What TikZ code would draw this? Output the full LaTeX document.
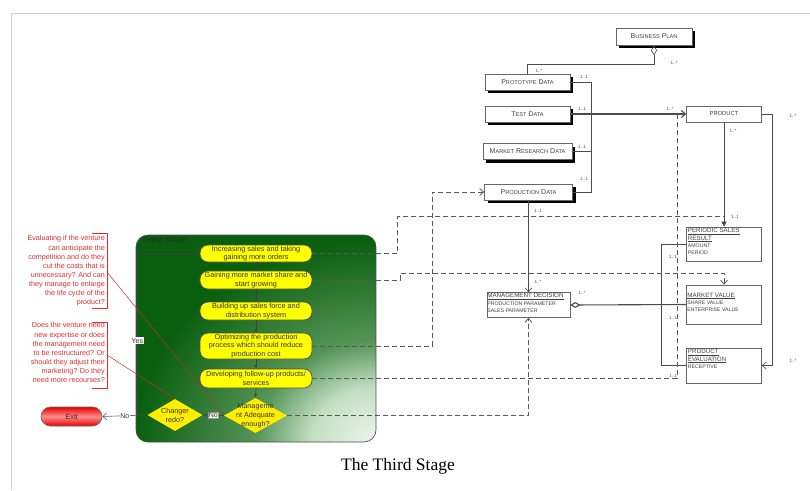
\documentclass[tikz,border=0pt]{standalone}
\usepackage{fontspec}
\setmainfont{Liberation Sans}
\newfontfamily\capfont{Liberation Serif}
\usetikzlibrary{arrows.meta,shapes.geometric,shadows}

\definecolor{stagegreen}{RGB}{10,95,15}
\definecolor{stagemid}{RGB}{85,148,87}
\definecolor{stagepale}{RGB}{195,222,195}
\definecolor{stagewhite}{RGB}{238,245,238}
\definecolor{pillyellow}{RGB}{255,255,0}
\definecolor{decyellow}{RGB}{255,238,0}
\definecolor{annred}{RGB}{225,45,45}
\definecolor{annline}{RGB}{185,50,40}
\definecolor{framegray}{RGB}{205,205,205}
\definecolor{exitred}{RGB}{232,0,0}
\definecolor{exitpink}{RGB}{255,140,140}

% glow towards the lower right corner of the stage panel
\pgfdeclareradialshading{stageglow}{\pgfpoint{0bp}{0bp}}{color(0bp)=(stagewhite); color(6.5bp)=(stagepale); color(12bp)=(stagemid); color(24bp)=(stagegreen); color(50bp)=(stagegreen)}

% small caps imitation: large initial, smaller rest
\newcommand\smc[2]{#1{\fontsize{5.6}{6}\selectfont #2}}
\newcommand\umlhead[1]{{\fontsize{6.2}{7.3}\selectfont\underline{#1}}}

\tikzset{
  databox/.style={draw=black!60, fill=white, line width=0.6pt, minimum height=16pt,
    inner sep=0pt, font=\fontsize{7}{8}\selectfont, text=black!75,
    general shadow={fill=black, shadow xshift=3pt, shadow yshift=-3pt}},
  umlbox/.style={draw=black!60, fill=white, line width=0.6pt, inner sep=0pt},
  umltext/.style={inner sep=0pt, align=left, font=\fontsize{5.2}{7.3}\selectfont, text=black!75},
  mult/.style={inner sep=0pt, font=\fontsize{4.6}{5}\selectfont, text=black!70},
  umlline/.style={draw=black!70, line width=0.6pt},
  openhead/.style={-{Straight Barb[length=4pt,width=7pt]}},
  dashline/.style={draw=black!65, line width=0.8pt, dash pattern=on 5pt off 3pt},
  pill/.style={draw=black!70, line width=0.7pt, fill=pillyellow, rounded corners=8pt,
    minimum width=112pt, inner sep=0pt, align=center,
    font=\fontsize{7.3}{8.6}\selectfont, text=black!80},
  decision/.style={diamond, fill=decyellow, draw=none, inner sep=0pt},
  dectext/.style={inner sep=0pt, align=center, font=\fontsize{7.2}{9}\selectfont, text=black!80},
  flowarrow/.style={draw=black!75, line width=0.6pt, -{Latex[length=3.5pt,width=3pt]}},
  note/.style={inner sep=0pt, align=right, font=\fontsize{7.2}{9.1}\selectfont, text=annred},
  tag/.style={fill=white, inner sep=0.8pt, font=\fontsize{7}{8}\selectfont, text=black!80},
}

\begin{document}
\begin{tikzpicture}[x=1pt,y=-1pt]
\useasboundingbox (0,0) rectangle (810,490);

% page frame
\draw[framegray, line width=0.8pt] (11,490) -- (11,13) -- (810,13);

% ---------- data model ----------
\node[databox, minimum width=76pt, minimum height=17pt] (bp) at (654,36.5) {\smc{B}{USINESS} \smc{P}{LAN}};
\node[databox, minimum width=85pt] (proto) at (527.5,82) {\smc{P}{ROTOTYPE} \smc{D}{ATA}};
\node[databox, minimum width=85pt] (test) at (527.5,114) {\smc{T}{EST} \smc{D}{ATA}};
\node[databox, minimum width=89pt] (mrd) at (527.5,151.5) {\smc{M}{ARKET} \smc{R}{ESEARCH} \smc{D}{ATA}};
\node[databox, minimum width=88pt] (prod) at (528.5,192) {\smc{P}{RODUCTION} \smc{D}{ATA}};

\node[umlbox, minimum width=75pt, minimum height=16pt, font=\fontsize{5.8}{7}\selectfont, text=black!75] (product) at (724,114) {PRODUCT};
\node[umlbox, minimum width=75pt, minimum height=34pt] (psr) at (724,244) {};
\node[umlbox, minimum width=75pt, minimum height=39pt] (mv) at (724,304.5) {};
\node[umlbox, minimum width=75pt, minimum height=35pt] (pe) at (724,365.5) {};
\node[umlbox, minimum width=83pt, minimum height=25pt] (md) at (528.5,305) {};

\node[umltext, anchor=north west] (psrtext) at ([shift={(1.5,1.5)}]psr.north west) {\umlhead{PERIODIC SALES}\\\umlhead{RESULT}\\AMOUNT\\PERIOD};
\node[umltext, anchor=north west] (mvtext) at ([shift={(1,8)}]mv.north west) {\umlhead{MARKET VALUE}\\SHARE VALUE\\ENTERPRISE VALUE};
\node[umltext, anchor=north west] (petext) at ([shift={(1.5,1.5)}]pe.north west) {\umlhead{PRODUCT}\\\umlhead{EVALUATION}\\RECEPTIVE};
\node[umltext, anchor=north west] (mdtext) at ([shift={(0.5,1)}]md.north west) {\umlhead{MANAGEMENT DECISION}\\PRODUCTION PARAMETER\\SALES PARAMETER};

\coordinate (psrin) at (724,216);
\coordinate (productin) at (677,114);

% associations
\draw[umlline, {Diamond[open,length=10pt,width=6pt]}-] (bp.south) -- ++(0,19) -| (proto.north);
\draw[umlline] (proto.east) -- ++(21,0) |- (prod.east);
\draw[umlline] (mrd.east) -- ++(19,0);
\draw[umlline, line width=1.1pt, openhead] (test.east) -- (product.west);
\draw[umlline, -{Triangle[length=5pt,width=5pt]}] (product.south) -- (psr.north);
\draw[umlline, openhead] (product.east) -- ++(10,0) |- (pe.east);
\draw[umlline] (psr.west) -- ++(-25,0) |- (pe.west);
\draw[umlline, line width=1.1pt, {Diamond[open,length=10pt,width=6pt]}-] (md.east) -- (mv.west);
\draw[umlline, openhead] (prod.south) -- (md.north);

% multiplicities
\foreach \p/\t [count=\i] in {{(674,63)}/1..*, {(539,71)}/1..*, {(584,77)}/1..1, {(582,109)}/1..1,
  {(582,147)}/1..1, {(584,179)}/1..1, {(670,109)}/1..*, {(793,116)}/1..*, {(733,131)}/1..*,
  {(735,217)}/1..1, {(538,211)}/1..1, {(538,282)}/1..*, {(582,293)}/1..*, {(673,257)}/1..1,
  {(673,318)}/1..1, {(673,376)}/1..1, {(793,361)}/1..*}
  \node[mult] (m\i) at \p {\t};

% ---------- third stage ----------
\begin{scope}
  \clip[rounded corners=12pt] (136,235) rectangle (376,442);
  \fill[stagegreen] (136,235) rectangle (376,442);
  \shade[shading=stageglow] (376,442) ellipse [x radius=250pt, y radius=210pt];
\end{scope}
\draw[black!70, line width=0.6pt, rounded corners=12pt] (136,235) rectangle (376,442);
\node[anchor=north west, inner sep=0pt, font=\fontsize{6.8}{8}\selectfont, text=black!85] (stagelabel) at (142,237.5) {THIRD STAGE};

\node[pill, minimum height=17pt] (p1) at (256,253.5) {Increasing sales and taking\\gaining more orders};
\node[pill, minimum height=18pt] (p2) at (256,280) {Gaining more market share and\\start growing};
\node[pill, minimum height=18pt] (p3) at (256,311) {Building up sales force and\\distribution system};
\node[pill, minimum height=26pt] (p4) at (256,346) {Optimizing the production\\process which should reduce\\production cost};
\node[pill, minimum height=19pt] (p5) at (256,378.5) {Developing follow-up products/\\services};

\node[decision, minimum width=63pt, minimum height=35pt] (mg) at (255.5,415.5) {};
\node[dectext] (mgtext) at (mg) {Manageme\\nt Adequate\\enough?};
\node[decision, minimum width=55pt, minimum height=32pt] (ch) at (175,415) {};
\node[dectext] (chtext) at (ch) {Changer\\redo?};

\node[draw=black!60, line width=0.6pt, rounded corners=9.5pt, minimum width=61pt, minimum height=19pt,
  top color=exitred, bottom color=exitred, middle color=exitpink,
  font=\fontsize{7.5}{9}\selectfont, text=black!80] (exit) at (71.5,416.5) {Exit};

\draw[flowarrow] (p1.south) -- (p2.north);
\draw[flowarrow] (p2.south) -- (p3.north);
\draw[flowarrow] (p3.south) -- (p4.north);
\draw[flowarrow] (p4.south) -- (p5.north);
\draw[flowarrow] (p5.south) -- (mg.north);
\draw[flowarrow] (mg.west) -- node[tag, draw=black!40] (no1) {No} (ch.east);
\draw[draw=black!60, line width=0.6pt, openhead] (ch.west) -- node[tag] (no2) {No} (exit.east);
\draw[flowarrow] (ch.west) -- ++(-10,0) |- node[tag, pos=0.23] (yes) {Yes} (p1.west);

% flow results feeding the data model
\draw[dashline] (p1.east) -- ++(85,0) |- (psrin);
\draw[dashline, openhead] (p2.east) -- ++(88,0) -- ++(0,-7) -| (mv.north);
\draw[dashline, openhead] (p4.east) -- ++(120,0) |- (prod.west);
\draw[dashline] (p5.east) -| (productin);
\draw[dashline, openhead] (mg.east) -| (md.south);

% ---------- questions ----------
\node[note, anchor=north east] (q1) at (105,235.5) {Evaluating if the venture\\can anticipate the\\competition and do they\\cut the costs that is\\unnecessary? And can\\they manage to enlarge\\the life cycle of the\\product?};
\node[note, anchor=north east] (q2) at (105,322.5) {Does the venture need\\new expertise or does\\the management need\\to be restructured? Or\\should they adjust their\\marketing? Do they\\need more recourses?};
\draw[annred, line width=0.6pt] (92,233) -- (107,233) -- (107,308) -- (92,308);
\draw[annred, line width=0.6pt] (92,322) -- (107,322) -- (107,388) -- (92,388);
\coordinate (br1) at (107,272);
\coordinate (br2) at (107,355);
\draw[annline, line width=0.5pt] (br1) -- (mg.west);
\draw[annline, line width=0.5pt] (br2) -- (ch.north);

% caption
\node[font=\capfont\fontsize{17.5}{20}\selectfont] (caption) at (398,466) {The Third Stage};
\end{tikzpicture}
\end{document}
